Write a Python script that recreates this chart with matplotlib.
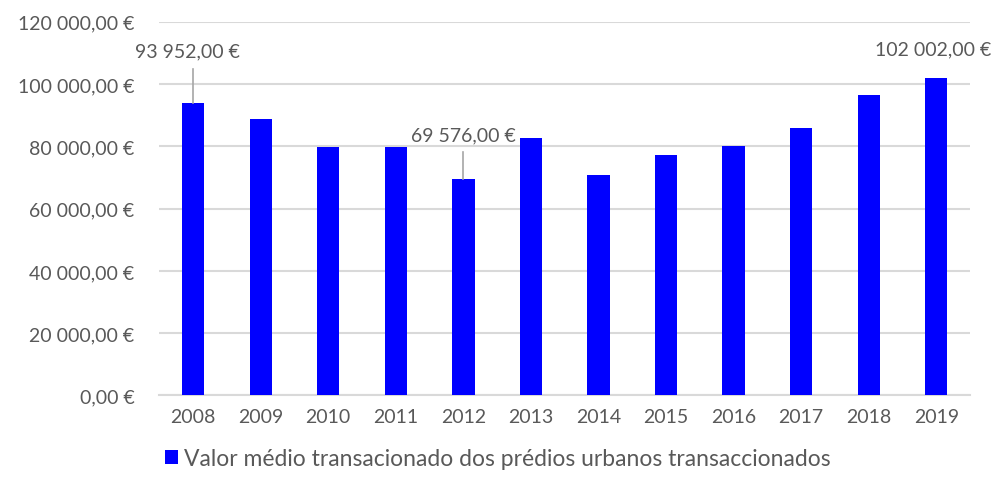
import numpy as np
import matplotlib.pyplot as plt
from matplotlib.ticker import FuncFormatter

plt.rcParams['font.family'] = ['Lato', 'DejaVu Sans']

years = ["2008", "2009", "2010", "2011", "2012", "2013",
         "2014", "2015", "2016", "2017", "2018", "2019"]
values = [93952, 88760, 79870, 79680, 69576, 82670,
          70880, 77110, 80100, 85780, 96470, 102002]
label_name = "Valor médio transacionado dos prédios urbanos transaccionados"
# years whose value is written on the chart
labelled = ["2008", "2012", "2019"]

txt = "#595959"
blue = "#0000ff"


def euro(v, pos=None):
    s = f"{v:,.2f}".replace(",", " ").replace(".", ",")
    return s + " €"


fig = plt.figure(figsize=(9.96, 4.85), dpi=100)
ax = fig.add_axes([0.16, 0.1825, 0.814, 0.7705])

x = np.arange(len(years))
ax.bar(x, values, width=0.33, color=blue, label=label_name, zorder=3)

ax.set_ylim(0, 120000)
ax.set_xlim(-0.5, len(years) - 0.5)
ax.set_yticks(np.arange(0, 120001, 20000))
ax.yaxis.set_major_formatter(FuncFormatter(euro))
ax.set_xticks(x)
ax.set_xticklabels(years)
ax.tick_params(axis="both", length=0, colors=txt, labelsize=14)
ax.tick_params(axis="y", pad=18)
ax.tick_params(axis="x", pad=9)
ax.grid(axis="y", color="#d9d9d9", linewidth=1.5, zorder=0)
for s in ["top", "right", "left"]:
    ax.spines[s].set_visible(False)
ax.spines["bottom"].set_color("#d9d9d9")
ax.spines["bottom"].set_linewidth(1.5)

# data labels with leader lines
offsets = {"2008": (-0.08, 14000), "2012": (0, 11500), "2019": (-0.05, 6500)}
for yr in labelled:
    i = years.index(yr)
    v = values[i]
    dx, dy = offsets[yr]
    ax.text(i + dx, v + dy, euro(v), ha="center", va="bottom",
            color=txt, fontsize=14)
    if dy > 8000:
        ax.plot([i, i], [v, v + dy - 3000], color="#a6a6a6", lw=1.2, zorder=4)

fig.legend(loc="lower center", bbox_to_anchor=(0.5, -0.012), frameon=False,
           fontsize=16.5, labelcolor=txt, handlelength=0.55, handleheight=0.6,
           handletextpad=0.3)

fig.savefig("out.png", dpi=100)
